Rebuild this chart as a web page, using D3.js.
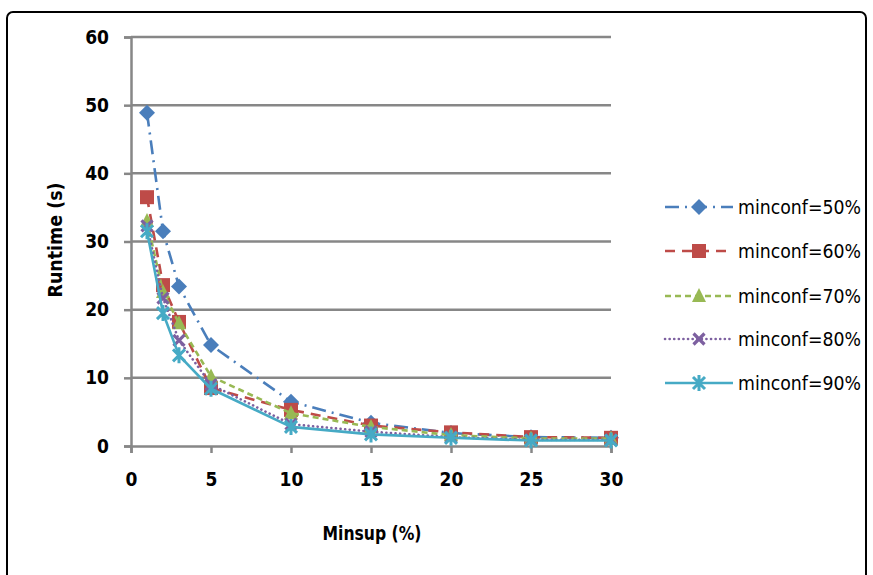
<!DOCTYPE html>
<html>
<head>
<meta charset="utf-8">
<script src="https://cdn.jsdelivr.net/npm/d3@7"></script>
<style>
  html, body { margin: 0; padding: 0; background: #fff; }
  svg { display: block; }
  text { font-family: "DejaVu Sans Condensed", "Liberation Sans Narrow", sans-serif; }
</style>
</head>
<body>
<svg id="chart" width="873" height="575"></svg>
<script>
// Minimum support values (%) on the x axis
const minsup = [1, 2, 3, 5, 10, 15, 20, 25, 30];

// Runtime (s) for each minimum confidence setting
const conf50 = [48.9, 31.5, 23.4, 14.8, 6.5, 3.4, 1.9, 1.3, 1.2];
const conf60 = [36.5, 23.6, 18.2, 8.5, 5.3, 3.0, 2.0, 1.3, 1.2];
const conf70 = [33.0, 22.6, 18.0, 10.2, 4.8, 2.8, 1.6, 1.1, 1.1];
const conf80 = [32.3, 21.7, 15.5, 9.0, 3.2, 2.1, 1.3, 0.9, 0.9];
const conf90 = [31.5, 19.5, 13.3, 8.4, 2.8, 1.7, 1.2, 0.8, 0.8];

const seriesNames = ["minconf=50%", "minconf=60%", "minconf=70%", "minconf=80%", "minconf=90%"];
const xTicks = [0, 5, 10, 15, 20, 25, 30];
const yTicks = [0, 10, 20, 30, 40, 50, 60];

const seriesStyle = [
  { values: conf50, color: "#4a7ebb", dash: "14,6,2,6", marker: "diamond", cap: "butt" },
  { values: conf60, color: "#be4b48", dash: "10,7", marker: "square", cap: "butt" },
  { values: conf70, color: "#98b954", dash: "6,4", marker: "triangle", cap: "butt" },
  { values: conf80, color: "#7d60a0", dash: "0.1,4.5", marker: "x", cap: "round" },
  { values: conf90, color: "#46aac5", dash: null, marker: "star", cap: "butt" }
];

const svg = d3.select("#chart");

// Outer frame
svg.append("rect")
  .attr("x", 7).attr("y", 12)
  .attr("width", 859).attr("height", 600)
  .attr("rx", 6).attr("ry", 6)
  .attr("fill", "#fff")
  .attr("stroke", "#000")
  .attr("stroke-width", 2);

const plot = { left: 131, right: 611, top: 37, bottom: 446 };

const x = d3.scaleLinear().domain([0, 30]).range([plot.left, plot.right]);
const y = d3.scaleLinear().domain([0, 60]).range([plot.bottom, plot.top]);

const gridColor = "#878787";

// Horizontal gridlines
svg.append("g")
  .selectAll("line")
  .data(yTicks.filter(d => d > 0))
  .join("line")
  .attr("x1", plot.left).attr("x2", plot.right)
  .attr("y1", d => y(d)).attr("y2", d => y(d))
  .attr("stroke", gridColor)
  .attr("stroke-width", 2.5);

// Y axis
const yAxis = svg.append("g")
  .attr("transform", `translate(${plot.left},0)`)
  .call(d3.axisLeft(y).tickValues(yTicks).tickSize(7).tickPadding(15).tickFormat(d3.format("d")));
yAxis.select(".domain").attr("stroke", gridColor).attr("stroke-width", 2.5);
yAxis.selectAll(".tick line").attr("stroke", gridColor).attr("stroke-width", 2.5);
yAxis.selectAll(".tick text")
  .attr("font-size", 19).attr("font-weight", "bold").attr("fill", "#000")
  .style("font-family", "'DejaVu Sans Condensed', sans-serif");

// X axis
const xAxis = svg.append("g")
  .attr("transform", `translate(0,${plot.bottom})`)
  .call(d3.axisBottom(x).tickValues(xTicks).tickSize(7).tickPadding(20).tickFormat(d3.format("d")));
xAxis.select(".domain").attr("stroke", gridColor).attr("stroke-width", 2.5);
xAxis.selectAll(".tick line").attr("stroke", gridColor).attr("stroke-width", 2.5);
xAxis.selectAll(".tick text")
  .attr("font-size", 19).attr("font-weight", "bold").attr("fill", "#000")
  .style("font-family", "'DejaVu Sans Condensed', sans-serif");

// Axis titles
svg.append("text")
  .attr("x", 372)
  .attr("y", 540)
  .attr("text-anchor", "middle")
  .attr("font-size", 19).attr("font-weight", "bold")
  .attr("textLength", 99).attr("lengthAdjust", "spacingAndGlyphs")
  .text("Minsup (%)");

svg.append("text")
  .attr("transform", `translate(62,240) rotate(-90)`)
  .attr("text-anchor", "middle")
  .attr("font-size", 19).attr("font-weight", "bold")
  .attr("textLength", 115).attr("lengthAdjust", "spacingAndGlyphs")
  .text("Runtime (s)");

// Marker drawing helper
function drawMarker(g, type, cx, cy, color) {
  const m = g.append("g").attr("transform", `translate(${cx},${cy})`);
  if (type === "diamond") {
    m.append("path").attr("d", "M0,-8L8,0L0,8L-8,0Z").attr("fill", color);
  } else if (type === "square") {
    m.append("rect").attr("x", -7).attr("y", -7).attr("width", 14).attr("height", 14).attr("fill", color);
  } else if (type === "triangle") {
    m.append("path").attr("d", "M0,-8L7,6L-7,6Z").attr("fill", color);
  } else if (type === "x") {
    m.append("path").attr("d", "M-5.5,-5.5L5.5,5.5M-5.5,5.5L5.5,-5.5")
      .attr("stroke", color).attr("stroke-width", 3.2).attr("fill", "none");
  } else if (type === "star") {
    m.append("path").attr("d", "M-6,-6L6,6M-6,6L6,-6M0,-8L0,8")
      .attr("stroke", color).attr("stroke-width", 3).attr("fill", "none");
  }
}

const line = d3.line()
  .x((d, i) => x(minsup[i]))
  .y(d => y(d));

const seriesG = svg.append("g");
seriesStyle.forEach(s => {
  const g = seriesG.append("g");
  g.append("path")
    .datum(s.values)
    .attr("d", line)
    .attr("fill", "none")
    .attr("stroke", s.color)
    .attr("stroke-width", 2.6)
    .attr("stroke-linecap", s.cap)
    .attr("stroke-linejoin", "round")
    .attr("stroke-dasharray", s.dash);
  s.values.forEach((v, i) => drawMarker(g, s.marker, x(minsup[i]), y(v), s.color));
});

// Legend
const legendRows = [207, 251, 296, 339, 383];
const legend = svg.append("g");
seriesStyle.forEach((s, i) => {
  const ly = legendRows[i];
  legend.append("line")
    .attr("x1", 665).attr("x2", 733)
    .attr("y1", ly).attr("y2", ly)
    .attr("stroke", s.color)
    .attr("stroke-width", 2.6)
    .attr("stroke-linecap", s.cap)
    .attr("stroke-dasharray", s.dash);
  drawMarker(legend, s.marker, 699, ly, s.color);
  legend.append("text")
    .attr("x", 738).attr("y", ly + 7)
    .attr("font-size", 19)
    .attr("fill", "#000")
    .attr("textLength", 123).attr("lengthAdjust", "spacingAndGlyphs")
    .text(seriesNames[i]);
});
</script>
</body>
</html>
